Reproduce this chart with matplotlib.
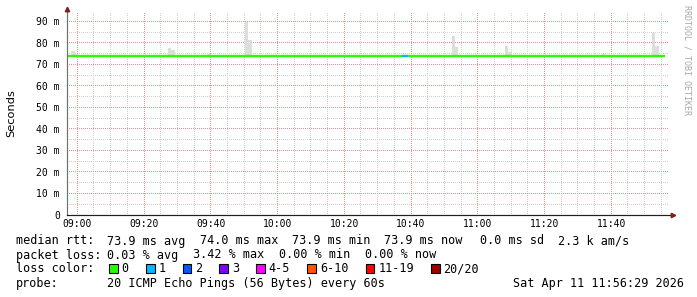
import matplotlib
matplotlib.use("Agg")
import matplotlib.pyplot as plt
from matplotlib.patches import Rectangle
from matplotlib.colors import to_rgba
import numpy as np

W, H, DPI = 697, 297, 100
MONO = "DejaVu Sans Mono"


def tmin(s):
    p = [int(v) for v in s.split(":")]
    sec = p[2] if len(p) > 2 else 0
    return (p[0] - 9) * 60 + p[1] + sec / 60.0


# ---------------- data ----------------
median_rtt = 73.9
seg_start = ["08:56:54", "10:37:12", "10:39:12"]
seg_end = ["10:37:12", "10:39:12", "11:56:06"]
seg_loss = [0, 1, 0]

smoke_time = ["08:58:12", "08:59:12", "09:03:12", "09:27:12", "09:28:12", "09:29:12",
              "09:39:12", "09:50:12", "09:51:12", "10:52:12", "10:53:12", "11:08:12",
              "11:09:12", "11:37:12", "11:38:12", "11:52:12", "11:53:12"]
smoke_max = [76.1, 74.9, 74.4, 77.7, 76.6, 74.6, 74.8, 89.5, 81.2, 83.1, 78.0,
             78.5, 75.7, 74.9, 74.5, 84.5, 78.5]
step_minutes = 1.0

x_tick_labels = ["09:00", "09:20", "09:40", "10:00", "10:20", "10:40", "11:00", "11:20", "11:40"]
y_tick_values = [0, 10, 20, 30, 40, 50, 60, 70, 80, 90]
y_tick_labels = ["0", "10 m", "20 m", "30 m", "40 m", "50 m", "60 m", "70 m", "80 m", "90 m"]

loss_labels = ["0", "1", "2", "3", "4-5", "6-10", "11-19", "20/20"]
loss_colors = ["#26ff00", "#00b8ff", "#0059ff", "#7e00ff", "#ff00ff", "#ff5500", "#ff0000", "#a00000"]

rtt_items = ["73.9 ms avg", "74.0 ms max", "73.9 ms min", "73.9 ms now", "0.0 ms sd", "2.3 k am/s"]
loss_items = ["0.03 % avg", "3.42 % max", "0.00 % min", "0.00 % now"]
probe_text = "20 ICMP Echo Pings (56 Bytes) every 60s"
date_text = "Sat Apr 11 11:56:29 2026"
watermark = "RRDTOOL / TOBI OETIKER"

# ---------------- figure ----------------
fig = plt.figure(figsize=(W / DPI, H / DPI), dpi=DPI)
fig.patch.set_facecolor("white")

L, R, T, B = 67, 668, 13, 215
ax = fig.add_axes([L / W, 1 - B / H, (R - L) / W, (B - T) / H])
ax.set_facecolor("white")
X0, X1, Y0, Y1 = -3.09, 177.0, 0.0, 93.9
ax.set_xlim(X0, X1)
ax.set_ylim(Y0, Y1)
for s in ax.spines.values():
    s.set_visible(False)

# grid: pixel-exact dotted raster (1 px on / 1 px off)
NC, NR = R - L, B - T
grid = np.zeros((NR, NC, 4))
minor_rgba = np.array(to_rgba("#d0d0d0"))
major_rgba = np.array(to_rgba("#e88e8e"))


def col_of(t):
    return int(np.floor((t - X0) / (X1 - X0) * NC))


def row_of(v):
    return int(np.floor((Y1 - v) / (Y1 - Y0) * NR))


for major in (False, True):
    rgba = major_rgba if major else minor_rgba
    t = 0
    while t - 5 >= X0:
        t -= 5
    while t <= X1:
        if (t % 20 == 0) == major:
            c = col_of(t)
            if 0 <= c < NC:
                grid[::2, c] = rgba
        t += 5
    for v in range(5, 95, 5):
        if (v % 10 == 0) == major:
            r = row_of(v)
            if 0 <= r < NR:
                grid[r, ::2] = rgba
ax.imshow(grid, extent=(X0, X1, Y0, Y1), aspect="auto", interpolation="nearest",
          origin="upper", zorder=0)

# smoke
ax.bar([tmin(s) for s in smoke_time], [m - median_rtt for m in smoke_max],
       bottom=median_rtt, width=step_minutes, align="edge", color="#dddddd",
       edgecolor="none", zorder=1)

# median line coloured by loss
for s, e, lo in zip(seg_start, seg_end, seg_loss):
    ax.plot([tmin(s), tmin(e)], [median_rtt, median_rtt], color=loss_colors[lo],
            lw=1.7, solid_capstyle="butt", zorder=3)

# ticks
ax.set_xticks([tmin(s) for s in x_tick_labels])
ax.set_xticklabels(x_tick_labels, fontfamily=MONO, fontsize=7)
ax.set_yticks(y_tick_values)
ax.set_yticklabels(y_tick_labels, fontfamily=MONO, fontsize=7)
ax.tick_params(axis="both", length=0)
ax.tick_params(axis="x", pad=3.2)
ax.tick_params(axis="y", pad=5.2)
ax.set_xlim(X0, X1)
ax.set_ylim(Y0, Y1)

# axes lines & arrows
px = 72.0 / DPI
ax.plot([0, 0], [0, 1.01], transform=ax.transAxes, color="#707070", lw=px * 1.2,
        clip_on=False, zorder=4)
ax.plot([0, 1.004], [0, 0], transform=ax.transAxes, color="#1f1f1f", lw=px * 1.2,
        clip_on=False, zorder=4)
ax.plot([0], [1.02], marker="^", transform=ax.transAxes, color="#801f1f",
        markersize=3.2, clip_on=False, zorder=5)
ax.plot([1.008], [0], marker=">", transform=ax.transAxes, color="#801f1f",
        markersize=3.2, clip_on=False, zorder=5)

# y label & watermark
fig.text(11 / W, 1 - 113.5 / H, "Seconds", rotation=90, ha="center", va="center",
         fontsize=8.2, fontfamily="DejaVu Sans")
fig.text(687 / W, 1 - 60 / H, watermark, rotation=270, ha="center", va="center",
         fontsize=6, fontfamily=MONO, color="#a8a8a8")

# legend text
FS = 8.45


def ftxt(x, y, s, **kw):
    fig.text(x / W, 1 - y / H, s, fontfamily=MONO, fontsize=FS, va="baseline",
             ha="left", **kw)


y1, y2, y3, y4 = 244.5, 258.5, 272.5, 286.5
ftxt(16, y1, "median rtt:")
for x, s in zip([107.3, 200, 292.3, 384, 480, 558.3], rtt_items):
    ftxt(x, y1, s)
ftxt(16, y2, "packet loss:")
for x, s in zip([107.3, 193.3, 279.3, 365], loss_items):
    ftxt(x, y2, s)
ftxt(16, y3, "loss color:")
sq_x = [109, 146, 182.7, 219.3, 256, 307.3, 365.7, 431]
for x, lab, c in zip(sq_x, loss_labels, loss_colors):
    fig.add_artist(Rectangle((x / W, 1 - 272.5 / H), 8.5 / W, 8.5 / H,
                             transform=fig.transFigure, facecolor=c,
                             edgecolor="black", lw=0.8))
    ftxt(x + 12.5, y3, lab)
ftxt(16, y4, "probe:")
ftxt(107.3, y4, probe_text)
ftxt(513.3, y4, date_text)

fig.savefig("out.png", dpi=DPI, facecolor="white")
